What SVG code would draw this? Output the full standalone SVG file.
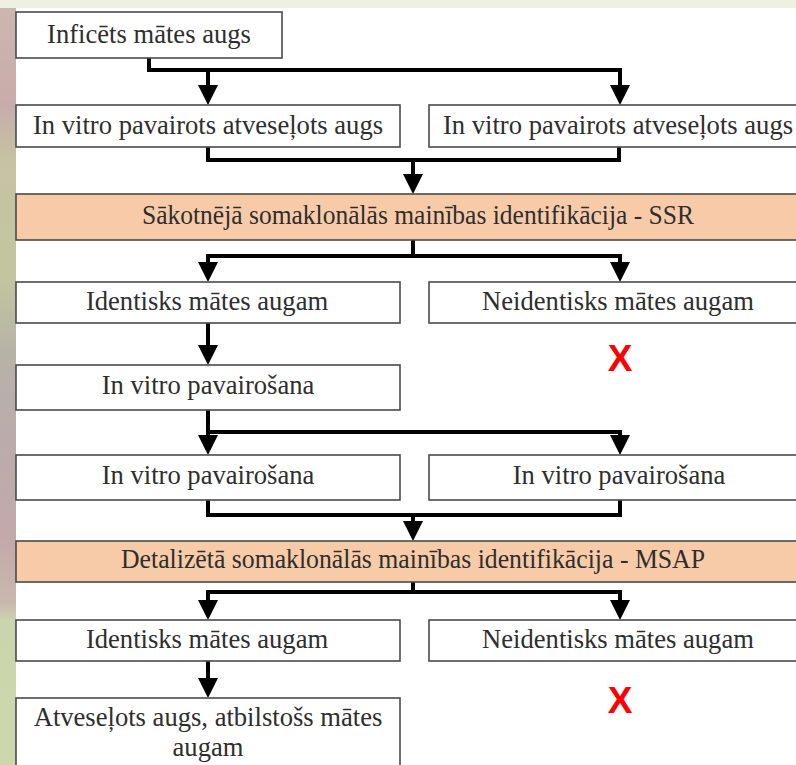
<svg xmlns="http://www.w3.org/2000/svg" width="796" height="765" viewBox="0 0 796 765">
  <defs>
    <linearGradient id="strip" x1="0" y1="0" x2="0" y2="1">
      <stop offset="0" stop-color="#cdb6b0"/>
      <stop offset="0.13" stop-color="#c8acab"/>
      <stop offset="0.2" stop-color="#c6c3a2"/>
      <stop offset="0.36" stop-color="#c2c59f"/>
      <stop offset="0.45" stop-color="#b7b3a6"/>
      <stop offset="0.56" stop-color="#baacab"/>
      <stop offset="0.7" stop-color="#c3a9a9"/>
      <stop offset="0.785" stop-color="#c9b8ae"/>
      <stop offset="0.81" stop-color="#cad5ad"/>
      <stop offset="1" stop-color="#ccd8ab"/>
    </linearGradient>
    <marker id="arr" markerUnits="userSpaceOnUse" markerWidth="20" markerHeight="20" viewBox="0 0 20 20" refX="2" refY="10" orient="auto">
      <path d="M0,0 L20,10 L0,20 Z" fill="#000"/>
    </marker>
    <style>
      .box { fill: #ffffff; stroke: #4a4a4a; stroke-width: 1.6; }
      .hl { fill: #f8cba8; stroke: #4a4a4a; stroke-width: 1.6; }
      .t { font-family: "Liberation Serif", "Times New Roman", serif; font-size: 26.6px; fill: #2e2e2e; text-anchor: middle; }
      .x { font-family: "Liberation Sans", Arial, sans-serif; font-weight: bold; font-size: 37px; fill: #ff0000; text-anchor: middle; }
      .c { fill: none; stroke: #000; stroke-width: 4; stroke-linejoin: miter; }
    </style>
  </defs>

  <rect x="0" y="0" width="796" height="765" fill="#eef1e2"/>
  <rect x="0" y="8" width="16" height="757" fill="url(#strip)"/>
  <rect x="16" y="8" width="780" height="757" fill="#ffffff"/>

  <g id="connectors">
    <path class="c" d="M149,58 V70 H620 V87" marker-end="url(#arr)"/>
    <path class="c" d="M208,70 V87" marker-end="url(#arr)"/>
    <path class="c" d="M208,147 V160 H619 V147"/>
    <path class="c" d="M413,160 V176" marker-end="url(#arr)"/>
    <path class="c" d="M413,240 V256"/>
    <path class="c" d="M620,256 H208 V264" marker-end="url(#arr)"/>
    <path class="c" d="M413,256 H620 V264" marker-end="url(#arr)"/>
    <path class="c" d="M208,323 V347" marker-end="url(#arr)"/>
    <path class="c" d="M208,410 V432 H620 V437" marker-end="url(#arr)"/>
    <path class="c" d="M208,432 V437" marker-end="url(#arr)"/>
    <path class="c" d="M208,500 V515 H620 V500"/>
    <path class="c" d="M413,515 V523" marker-end="url(#arr)"/>
    <path class="c" d="M413,582 V592"/>
    <path class="c" d="M413,592 H208 V602" marker-end="url(#arr)"/>
    <path class="c" d="M413,592 H620 V602" marker-end="url(#arr)"/>
    <path class="c" d="M208,661 V680" marker-end="url(#arr)"/>
  </g>

  <g id="n1">
    <rect class="box" x="16" y="12" width="266" height="46"/>
    <text class="t" x="149" y="43">Inficēts mātes augs</text>
  </g>
  <g id="n2a">
    <rect class="box" x="16" y="105" width="384" height="42"/>
    <text class="t" x="208" y="134">In vitro pavairots atveseļots augs</text>
  </g>
  <g id="n2b">
    <rect class="box" x="429" y="105" width="380" height="42"/>
    <text class="t" x="618" y="134">In vitro pavairots atveseļots augs</text>
  </g>
  <g id="ssr">
    <rect class="hl" x="16" y="194" width="794" height="46"/>
    <text class="t" x="418" y="224" textLength="552" lengthAdjust="spacingAndGlyphs">Sākotnējā somaklonālās mainības identifikācija - SSR</text>
  </g>
  <g id="n3a">
    <rect class="box" x="16" y="282" width="384" height="41"/>
    <text class="t" x="207" y="310">Identisks mātes augam</text>
  </g>
  <g id="n3b">
    <rect class="box" x="429" y="282" width="380" height="41"/>
    <text class="t" x="618" y="310">Neidentisks mātes augam</text>
  </g>
  <g id="x1">
    <text class="x" x="620" y="371">X</text>
  </g>
  <g id="n4">
    <rect class="box" x="16" y="365" width="384" height="45"/>
    <text class="t" x="208" y="394">In vitro pavairošana</text>
  </g>
  <g id="n5a">
    <rect class="box" x="16" y="455" width="384" height="45"/>
    <text class="t" x="208" y="484">In vitro pavairošana</text>
  </g>
  <g id="n5b">
    <rect class="box" x="429" y="455" width="380" height="45"/>
    <text class="t" x="619" y="484">In vitro pavairošana</text>
  </g>
  <g id="msap">
    <rect class="hl" x="16" y="541" width="794" height="41"/>
    <text class="t" x="413" y="568" textLength="584" lengthAdjust="spacingAndGlyphs">Detalizētā somaklonālās mainības identifikācija - MSAP</text>
  </g>
  <g id="n7a">
    <rect class="box" x="16" y="620" width="384" height="41"/>
    <text class="t" x="207" y="648">Identisks mātes augam</text>
  </g>
  <g id="n7b">
    <rect class="box" x="429" y="620" width="380" height="41"/>
    <text class="t" x="618" y="648">Neidentisks mātes augam</text>
  </g>
  <g id="x2">
    <text class="x" x="620" y="713">X</text>
  </g>
  <g id="n8">
    <rect class="box" x="16" y="698" width="384" height="80"/>
    <text class="t" x="208" y="726">Atveseļots augs, atbilstošs mātes</text>
    <text class="t" x="208" y="756">augam</text>
  </g>
</svg>
